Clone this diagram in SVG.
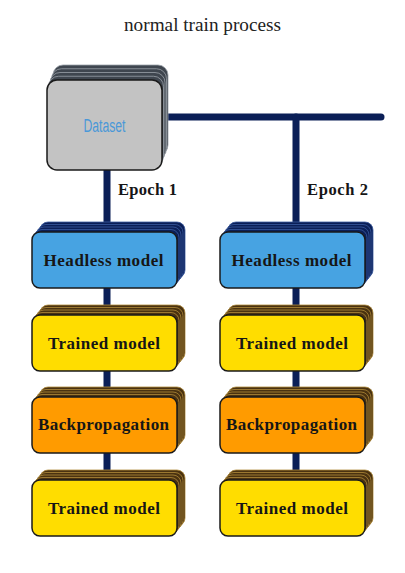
<svg xmlns="http://www.w3.org/2000/svg" width="405" height="573" viewBox="0 0 405 573">
<style>
.title{font-family:"Liberation Serif",serif;font-size:18px;fill:#222}
.lbl{font-family:"Liberation Serif",serif;font-weight:bold;font-size:17px;fill:#161616;text-anchor:middle}
.ep{font-family:"Liberation Serif",serif;font-weight:bold;font-size:16.5px;fill:#161616}
.ds{font-family:"Liberation Sans",sans-serif;font-size:18px;fill:#4a98d8;text-anchor:middle}
.conn{stroke:#0b1f57;stroke-width:7;fill:none;stroke-linecap:round}
.front{stroke:#1a1a1a;stroke-width:1.5}
.bk-grey{fill:#3f464f;stroke:#9aa1a8;stroke-width:0.8}
.bk-blue{fill:#0b1f57;stroke:#3a5aa0;stroke-width:0.8}
.bk-brown{fill:#4a3210;stroke:#b08a3a;stroke-width:0.8}
.f-grey{fill:#c3c3c3}
.f-blue{fill:#47a3e2}
.f-yellow{fill:#ffdd00}
.f-orange{fill:#ff9b00}
</style>
<defs>
<rect id="box" x="0" y="0" width="145" height="56" rx="8"/>
<rect id="dbox" x="0" y="0" width="115" height="90" rx="10"/>
</defs>
<text class="title" x="202.5" y="31" text-anchor="middle" textLength="157" lengthAdjust="spacingAndGlyphs">normal train process</text>
<g id="connectors">
<line class="conn" x1="107" y1="165" x2="107" y2="505"/>
<line class="conn" x1="162" y1="117" x2="381" y2="117"/>
<line class="conn" x1="296" y1="117" x2="296" y2="505"/>
</g>
<g id="dataset">
<use href="#dbox" x="53" y="65" class="bk-grey"/>
<use href="#dbox" x="51.5" y="68.75" class="bk-grey"/>
<use href="#dbox" x="50" y="72.5" class="bk-grey"/>
<use href="#dbox" x="48.5" y="76.25" class="bk-grey"/>
<use href="#dbox" x="47" y="80" class="f-grey front"/>
<text class="ds" x="104.5" y="132" textLength="42" lengthAdjust="spacingAndGlyphs">Dataset</text>
</g>
<g id="headless1">
<use href="#box" x="40" y="222" class="bk-blue"/>
<use href="#box" x="38" y="224.5" class="bk-blue"/>
<use href="#box" x="36" y="227" class="bk-blue"/>
<use href="#box" x="34" y="229.5" class="bk-blue"/>
<use href="#box" x="32" y="232" class="f-blue front"/>
<text class="lbl" x="103.5" y="266" textLength="120">Headless model</text>
</g>
<g id="trained1">
<use href="#box" x="40" y="305" class="bk-brown"/>
<use href="#box" x="38" y="307.5" class="bk-brown"/>
<use href="#box" x="36" y="310" class="bk-brown"/>
<use href="#box" x="34" y="312.5" class="bk-brown"/>
<use href="#box" x="32" y="315" class="f-yellow front"/>
<text class="lbl" x="104" y="349" textLength="112">Trained model</text>
</g>
<g id="backprop1">
<use href="#box" x="40" y="387" class="bk-brown"/>
<use href="#box" x="38" y="389.5" class="bk-brown"/>
<use href="#box" x="36" y="392" class="bk-brown"/>
<use href="#box" x="34" y="394.5" class="bk-brown"/>
<use href="#box" x="32" y="397" class="f-orange front"/>
<text class="lbl" x="103.5" y="430" textLength="131">Backpropagation</text>
</g>
<g id="trained2">
<use href="#box" x="40" y="470" class="bk-brown"/>
<use href="#box" x="38" y="472.5" class="bk-brown"/>
<use href="#box" x="36" y="475" class="bk-brown"/>
<use href="#box" x="34" y="477.5" class="bk-brown"/>
<use href="#box" x="32" y="480" class="f-yellow front"/>
<text class="lbl" x="104" y="514" textLength="112">Trained model</text>
</g>
<g id="headless2">
<use href="#box" x="228" y="222" class="bk-blue"/>
<use href="#box" x="226" y="224.5" class="bk-blue"/>
<use href="#box" x="224" y="227" class="bk-blue"/>
<use href="#box" x="222" y="229.5" class="bk-blue"/>
<use href="#box" x="220" y="232" class="f-blue front"/>
<text class="lbl" x="291.5" y="266" textLength="120">Headless model</text>
</g>
<g id="trained3">
<use href="#box" x="228" y="305" class="bk-brown"/>
<use href="#box" x="226" y="307.5" class="bk-brown"/>
<use href="#box" x="224" y="310" class="bk-brown"/>
<use href="#box" x="222" y="312.5" class="bk-brown"/>
<use href="#box" x="220" y="315" class="f-yellow front"/>
<text class="lbl" x="292" y="349" textLength="112">Trained model</text>
</g>
<g id="backprop2">
<use href="#box" x="228" y="387" class="bk-brown"/>
<use href="#box" x="226" y="389.5" class="bk-brown"/>
<use href="#box" x="224" y="392" class="bk-brown"/>
<use href="#box" x="222" y="394.5" class="bk-brown"/>
<use href="#box" x="220" y="397" class="f-orange front"/>
<text class="lbl" x="291.5" y="430" textLength="131">Backpropagation</text>
</g>
<g id="trained4">
<use href="#box" x="228" y="470" class="bk-brown"/>
<use href="#box" x="226" y="472.5" class="bk-brown"/>
<use href="#box" x="224" y="475" class="bk-brown"/>
<use href="#box" x="222" y="477.5" class="bk-brown"/>
<use href="#box" x="220" y="480" class="f-yellow front"/>
<text class="lbl" x="292" y="514" textLength="112">Trained model</text>
</g>
<text class="ep" x="118" y="195" textLength="59">Epoch 1</text>
<text class="ep" x="307" y="195" textLength="61">Epoch 2</text>
</svg>
